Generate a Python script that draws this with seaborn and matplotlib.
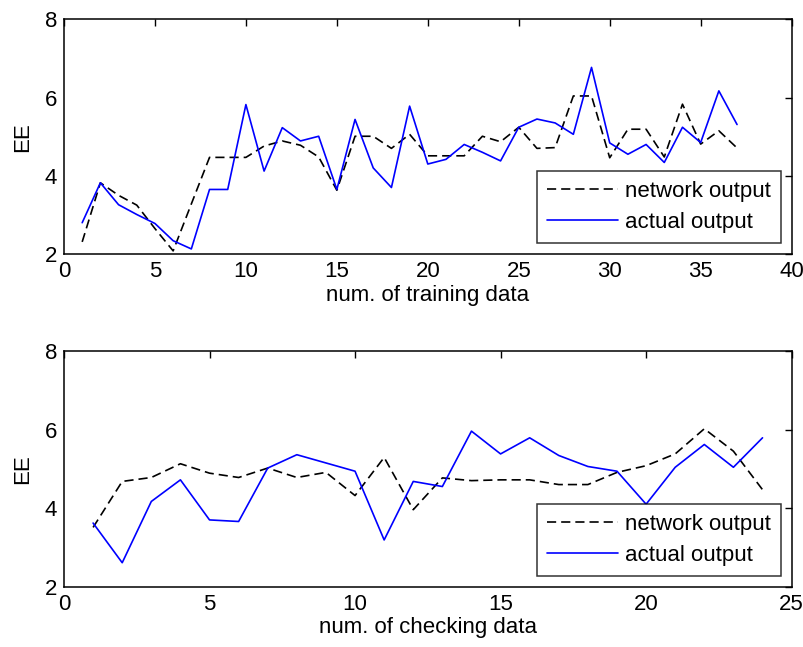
import matplotlib
matplotlib.use("Agg")
import matplotlib.pyplot as plt
import seaborn as sns

# training data (top panel)
train_idx = list(range(1, 38))
train_network = [2.31, 3.82, 3.50, 3.25, 2.65, 2.08, 3.28, 4.47, 4.47, 4.47,
                 4.76, 4.89, 4.78, 4.48, 3.63, 5.01, 5.01, 4.70, 5.06, 4.51,
                 4.51, 4.51, 5.01, 4.87, 5.24, 4.70, 4.72, 6.04, 6.04, 4.46,
                 5.19, 5.19, 4.48, 5.83, 4.81, 5.15, 4.71]
train_actual = [2.80, 3.82, 3.26, 3.01, 2.78, 2.34, 2.13, 3.65, 3.65, 5.82,
                4.12, 5.23, 4.89, 5.01, 3.65, 5.44, 4.20, 3.70, 5.78, 4.30,
                4.42, 4.80, 4.60, 4.38, 5.24, 5.45, 5.35, 5.06, 6.77, 4.84,
                4.55, 4.80, 4.34, 5.24, 4.85, 6.17, 5.31]

# checking data (bottom panel)
check_idx = list(range(1, 25))
check_network = [3.51, 4.68, 4.78, 5.13, 4.89, 4.78, 5.02, 4.78, 4.91, 4.32,
                 5.29, 3.96, 4.77, 4.70, 4.72, 4.72, 4.60, 4.60, 4.91, 5.08,
                 5.38, 6.02, 5.45, 4.47]
check_actual = [3.62, 2.61, 4.17, 4.72, 3.70, 3.66, 5.02, 5.36, 5.15, 4.94,
                3.19, 4.68, 4.55, 5.96, 5.38, 5.79, 5.34, 5.06, 4.94, 4.10,
                5.04, 5.62, 5.04, 5.79]

sns.set_style("white")
plt.rcParams['font.family'] = ['Liberation Sans', 'DejaVu Sans']
plt.rcParams['font.size'] = 16
plt.rcParams['text.color'] = 'black'
plt.rcParams['axes.labelcolor'] = 'black'
plt.rcParams['xtick.color'] = 'black'
plt.rcParams['ytick.color'] = 'black'

fig = plt.figure(figsize=(8.04, 6.47), dpi=100)
ax1 = fig.add_axes([0.0796, 0.6074, 0.905, 0.3628])
ax2 = fig.add_axes([0.0796, 0.0932, 0.905, 0.3643])

dash = (0, (5.5, 3))


def draw(ax, x, net, act, xmax, xlabel):
    sns.lineplot(x=x, y=net, ax=ax, color='black', lw=1.2, linestyle=dash,
                 label='network output')
    sns.lineplot(x=x, y=act, ax=ax, color='#0000ff', lw=1.2,
                 label='actual output')
    ax.set_xlim(0, xmax)
    ax.set_ylim(2, 8)
    ax.set_xticks(range(0, xmax + 1, 5))
    ax.set_yticks([2, 4, 6, 8])
    ax.tick_params(direction='in', length=5, width=1, top=True, right=True,
                   labelsize=16, pad=5, colors='black')
    for s in ax.spines.values():
        s.set_visible(True)
        s.set_color('black')
        s.set_linewidth(1.1)
    ax.set_xlabel(xlabel, fontsize=16, labelpad=2)
    ax.set_ylabel('EE', fontsize=16, labelpad=8)
    leg = ax.legend(loc='lower right', fontsize=16, frameon=True, fancybox=False,
                    handlelength=3.2, handletextpad=0.3, labelspacing=0.45,
                    borderpad=0.45, borderaxespad=0.5, edgecolor='black')
    leg.get_frame().set_linewidth(1.1)
    for t in leg.get_texts():
        t.set_color('black')


draw(ax1, train_idx, train_network, train_actual, 40, 'num. of training data')
draw(ax2, check_idx, check_network, check_actual, 25, 'num. of checking data')

fig.savefig('out.png', dpi=100)
